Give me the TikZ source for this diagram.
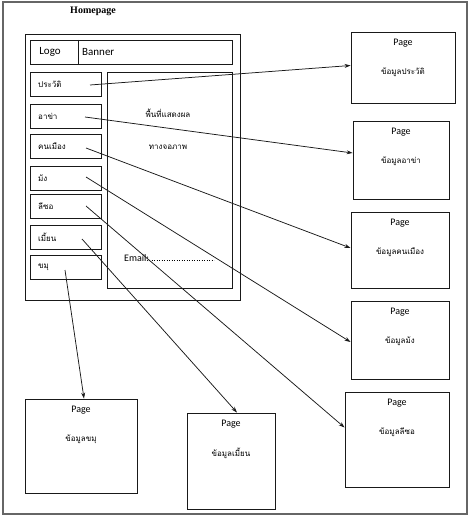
\documentclass[tikz,border=0pt]{standalone}
\usepackage{fontspec}
\setmainfont{Carlito}
\newfontfamily\thaifont[Script=Thai]{Loma}
\newfontfamily\serifhead{Liberation Serif}
\usetikzlibrary{arrows.meta}
\begin{document}
\begin{tikzpicture}[x=1pt,y=-1pt,
  box/.style={draw=black!90,line width=0.9pt,rectangle,inner sep=0pt},
  lat/.style={font=\fontsize{10}{12}\selectfont,inner sep=0pt},
  thai/.style={font=\thaifont\fontsize{8}{10}\selectfont,inner sep=0pt},
  conn/.style={draw=black!90,line width=0.75pt},
  arr/.style={conn,-{Stealth[length=6pt,width=4pt]}}]
\useasboundingbox (0,0) rectangle (470,516);
\draw[gray!80!black,line width=1.8pt] (3,2) rectangle (467,514);

\node[font=\serifhead\bfseries\fontsize{10}{12}\selectfont,inner sep=0pt] (title) at (93,11) {Homepage};

% homepage frame
\node[box,minimum width=215,minimum height=266] (home) at (132.5,167) {};
\node[box,minimum width=202,minimum height=24] (banner) at (131,52) {};
\coordinate (bdtop) at (78,40);
\coordinate (bdbot) at (78,64);
\draw[conn] (bdtop) -- (bdbot);
\node[lat,font=\fontsize{11}{13}\selectfont] (logo) at (50,52) {Logo};
\node[lat,font=\fontsize{11}{13}\selectfont,anchor=west] (bantxt) at (82,52) {Banner};

% menu boxes
\foreach \n/\y/\t in {m1/84.5/ประวัติ,m2/116/อาข่า,m3/146.5/คนเมือง,m4/178/ม้ง,m5/206.5/ลีซอ,m6/237.5/เมี้ยน,m7/267.5/ขมุ}{
  \node[box,minimum width=71,minimum height=24] (\n) at (65.5,\y) {};
  \node[thai,anchor=west] (\n t) at (38,\y) {\t};
}

% display area
\node[box,minimum width=125,minimum height=216] (disp) at (169.5,180) {};
\node[thai] (d1) at (168,113) {พื้นที่แสดงผล};
\node[thai] (d2) at (168,147) {ทางจอภาพ};
\node[lat] [anchor=west] (email) at (124,258) {Email:};
\coordinate (dotA) at (149,260);
\coordinate (dotB) at (214,260);
\draw[dotted,line width=0.5pt] (dotA) -- (dotB);

% pages
\foreach \n/\x/\y/\w/\h/\t in {
  p1/403/67.5/104/71/ข้อมูลประวัติ,
  p2/401/160/96/78/ข้อมูลอาข่า,
  p3/400/250/98/76/ข้อมูลคนเมือง,
  p4/400/340/98/78/ข้อมูลม้ง,
  p5/397/439.5/104/95/ข้อมูลลีซอ,
  p6/231/461/88/96/ข้อมูลเมี้ยน,
  p7/81/446/112/94/ข้อมูลขมุ}{
  \node[box,minimum width=\w,minimum height=\h] (\n) at (\x,\y) {};
  \node[lat] (\n a) at ([yshift=-12]\n.north) {Page};
  \node[thai] (\n b) at ([yshift=-41]\n.north) {\t};
}

% connector start points
\coordinate (s1) at (90,85);
\coordinate (s2) at (85,117);
\coordinate (s3) at (86,148);
\coordinate (s4) at (86,177);
\coordinate (s5) at (86,206);
\coordinate (s6) at (82,239);
\coordinate (s7) at (65,270);

\draw[arr] (s1) -- ([yshift=2]p1.west);
\draw[arr] (s2) -- ([yshift=7]p2.west);
\draw[arr] (s3) -- ([yshift=2]p3.west);
\draw[arr] (s4) -- ([yshift=-2]p4.west);
\draw[arr] (s5) -- ([yshift=12]p5.west);
\draw[arr] (s6) -- ([xshift=6]p6.north);
\draw[arr] (s7) -- ([xshift=3]p7.north);
\end{tikzpicture}
\end{document}
